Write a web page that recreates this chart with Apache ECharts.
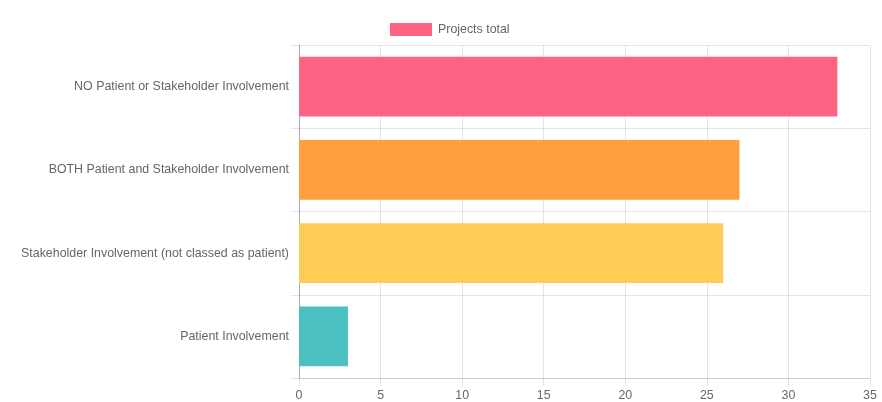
<!DOCTYPE html>
<html>
<head>
<meta charset="utf-8">
<script src="https://cdn.jsdelivr.net/npm/echarts@6/dist/echarts.min.js"></script>
<style>
  html, body { margin: 0; padding: 0; background: #fff; }
  #chart { width: 882px; height: 402px; }
</style>
</head>
<body>
<div id="chart"></div>
<script>
// Involvement categories, top to bottom
const categories = [
  'NO Patient or Stakeholder Involvement',
  'BOTH Patient and Stakeholder Involvement',
  'Stakeholder Involvement (not classed as patient)',
  'Patient Involvement'
];
// Number of projects per category
const projectsTotal = [33, 27, 26, 3];
const barColors = ['#ff6384', '#ff9f40', '#ffcd56', '#4bc0c0'];
const seriesName = 'Projects total';
const xTicks = { min: 0, max: 35, step: 5 };

const gridColor = 'rgba(0,0,0,0.1)';
const textColor = '#666';
const fontFamily = '"Liberation Sans", Arial, Helvetica, sans-serif';
const fontSize = 12.4;

const chart = echarts.init(document.getElementById('chart'), null, { renderer: 'canvas' });

chart.setOption({
  animation: false,
  textStyle: { fontFamily: fontFamily },
  legend: {
    data: [{ name: seriesName, itemStyle: { color: barColors[0] } }],
    top: 23,
    left: 390,
    padding: 0,
    itemWidth: 42,
    itemHeight: 13,
    itemGap: 10,
    icon: 'rect',
    textStyle: { color: textColor, fontSize: fontSize, fontFamily: fontFamily, padding: [0, 0, 0, 1] }
  },
  grid: { left: 299, right: 12, top: 45, bottom: 24, containLabel: false },
  xAxis: {
    type: 'value',
    min: xTicks.min,
    max: xTicks.max,
    interval: xTicks.step,
    axisLine: { show: true, lineStyle: { color: gridColor } },
    axisTick: { show: true, length: 8, lineStyle: { color: gridColor } },
    splitLine: { show: true, lineStyle: { color: gridColor } },
    axisLabel: { color: textColor, fontSize: fontSize, margin: 12, fontFamily: fontFamily }
  },
  yAxis: {
    type: 'category',
    data: categories,
    inverse: true,
    axisLine: { show: true, lineStyle: { color: 'rgba(0,0,0,0.25)' } },
    axisTick: { show: true, length: 8, alignWithLabel: false, lineStyle: { color: gridColor } },
    splitLine: { show: true, lineStyle: { color: gridColor } },
    axisLabel: { color: textColor, fontSize: fontSize, margin: 10, fontFamily: fontFamily }
  },
  series: [{
    name: seriesName,
    type: 'bar',
    barCategoryGap: '28%',
    data: projectsTotal.map((v, i) => ({ value: v, itemStyle: { color: barColors[i] } }))
  }]
});
</script>
</body>
</html>
